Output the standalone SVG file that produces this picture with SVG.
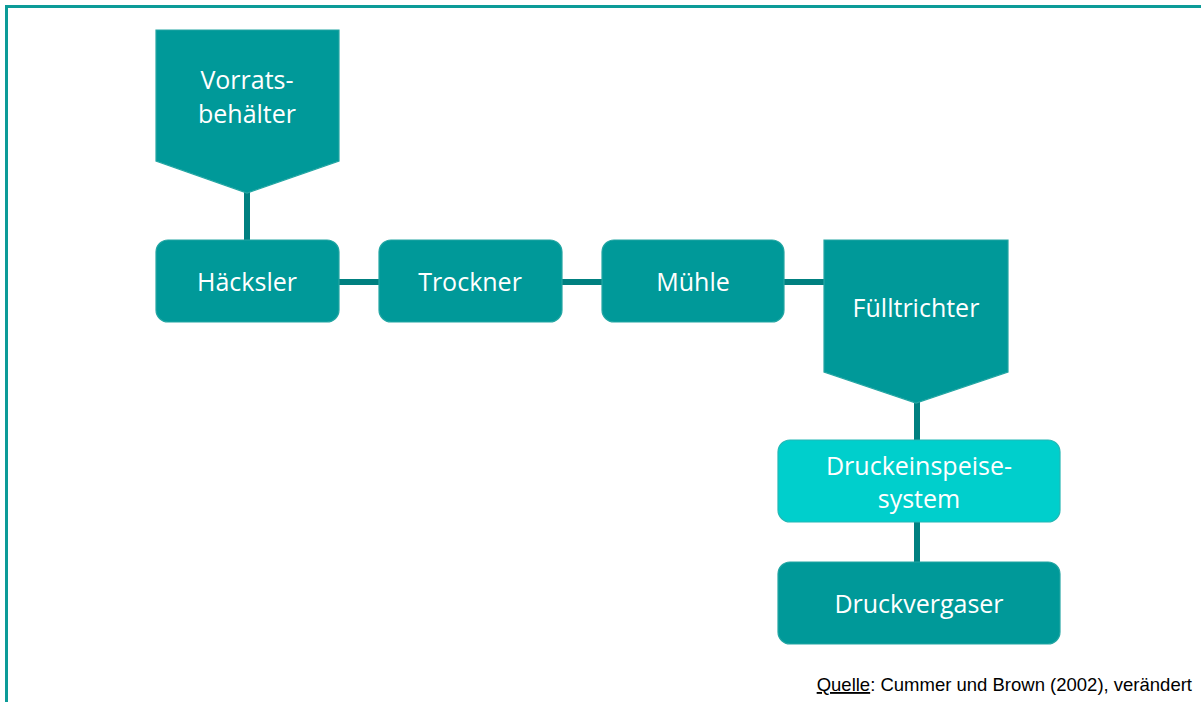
<svg xmlns="http://www.w3.org/2000/svg" width="1201" height="702" viewBox="0 0 1201 702">
<style>
.box{fill:#009999;stroke:#23a6a3;stroke-width:1.2}
.light{fill:#00cfcc;stroke:#23b8b5;stroke-width:1.2}
.lbl{font-family:"Open Sans","Liberation Sans",sans-serif;font-size:25px;fill:#ffffff;text-anchor:middle}
.con{stroke:#008080;stroke-width:6;fill:none}
</style>
<rect x="0" y="0" width="1201" height="702" fill="#ffffff"/>
<rect x="6.5" y="6.5" width="1205" height="705" fill="none" stroke="#0c9b98" stroke-width="3"/>
<g id="connectors">
<line class="con" x1="247" y1="190" x2="247" y2="240"/>
<line class="con" x1="339" y1="282" x2="379" y2="282"/>
<line class="con" x1="562" y1="282" x2="602" y2="282"/>
<line class="con" x1="784" y1="282" x2="824" y2="282"/>
<line class="con" x1="917" y1="400" x2="917" y2="440"/>
<line class="con" x1="917" y1="522" x2="917" y2="562"/>
</g>
<g id="vorratsbehaelter">
<polygon class="box" points="156,30 339,30 339,161 247,193 156,161"/>
<text class="lbl" x="247" y="89">Vorrats-</text>
<text class="lbl" x="247" y="123">behälter</text>
</g>
<g id="haecksler">
<rect class="box" x="156" y="240" width="183" height="82" rx="12"/>
<text class="lbl" x="247" y="291">Häcksler</text>
</g>
<g id="trockner">
<rect class="box" x="379" y="240" width="183" height="82" rx="12"/>
<text class="lbl" x="470" y="291">Trockner</text>
</g>
<g id="muehle">
<rect class="box" x="602" y="240" width="182" height="82" rx="12"/>
<text class="lbl" x="693" y="291">Mühle</text>
</g>
<g id="fuelltrichter">
<polygon class="box" points="824,240 1008,240 1008,372 916,403 824,372"/>
<text class="lbl" x="916" y="317">Fülltrichter</text>
</g>
<g id="druckeinspeisesystem">
<rect class="light" x="778" y="440" width="282" height="82" rx="12"/>
<text class="lbl" x="919" y="475">Druckeinspeise-</text>
<text class="lbl" x="919" y="508">system</text>
</g>
<g id="druckvergaser">
<rect class="box" x="778" y="562" width="282" height="82" rx="12"/>
<text class="lbl" x="919" y="613">Druckvergaser</text>
</g>
<text x="1192" y="691" font-family="'Liberation Sans',Arial,sans-serif" font-size="18.5" fill="#000000" text-anchor="end"><tspan text-decoration="underline">Quelle</tspan>: Cummer und Brown (2002), verändert</text>
</svg>
